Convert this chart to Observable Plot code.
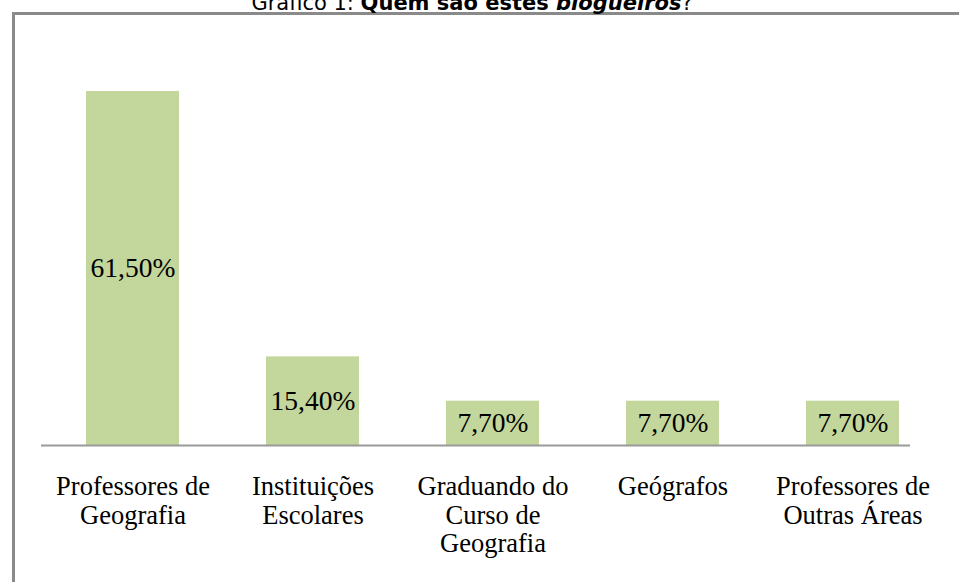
<!DOCTYPE html>
<html>
<head>
<meta charset="utf-8">
<script src="https://cdn.jsdelivr.net/npm/d3@7"></script>
<script src="https://cdn.jsdelivr.net/npm/@observablehq/plot@0.6"></script>
<style>
  html, body { margin: 0; padding: 0; background: #fff; overflow: hidden; }
  #wrap { position: relative; width: 959px; height: 582px; overflow: hidden; }
  #title { position: absolute; left: 0; width: 944px; top: -9px; line-height: 24px; text-align: center;
           font-family: "DejaVu Sans", Verdana, sans-serif; font-size: 21px; color: #000; white-space: nowrap; }
  #frame { position: absolute; left: 12px; top: 12px; width: 2000px; height: 2000px;
           border-left: 3px solid #8a8a8a; border-top: 3px solid #8a8a8a; box-sizing: border-box; }
  #chart { position: absolute; left: 0; top: 0; }
</style>
</head>
<body>
<div id="wrap">
  <div id="frame"></div>
  <div id="title">Gráfico 1: <b>Quem são estes <i>blogueiros</i></b>?</div>
  <div id="chart"></div>
</div>
<script>
const categories = [
  "Professores de\nGeografia",
  "Instituições\nEscolares",
  "Graduando do\nCurso de\nGeografia",
  "Geógrafos",
  "Professores de\nOutras Áreas"
];
const values = [61.5, 15.4, 7.7, 7.7, 7.7];
const valueLabels = ["61,50%", "15,40%", "7,70%", "7,70%", "7,70%"];

const data = categories.map((c, i) => ({category: c, value: values[i], label: valueLabels[i]}));

const chart = Plot.plot({
  width: 959,
  height: 582,
  marginLeft: 41,
  marginRight: 15,
  marginTop: 45,
  marginBottom: 137,
  style: {background: "transparent", fontFamily: "'Liberation Serif', 'Times New Roman', serif"},
  x: {domain: categories, paddingInner: 0.485, paddingOuter: 0.2425, label: null},
  y: {domain: [0, 69.5], axis: null},
  marks: [
    Plot.barY(data, {x: "category", y: "value", fill: "#c3d69b"}),
    Plot.ruleY([0], {stroke: "#999999", strokeWidth: 2, insetRight: 34}),
    Plot.text(data, {x: "category", y: d => d.value / 2, text: "label", fill: "#000",
      fontSize: 27.5, fontFamily: "'Liberation Serif', serif"}),
    Plot.axisX({tickSize: 0, tickPadding: 30, fontSize: 26.5, lineHeight: 1.06, lineAnchor: "top",
      fill: "#000", fontFamily: "'Liberation Serif', serif", label: null})
  ]
});
document.getElementById("chart").appendChild(chart);
</script>
</body>
</html>
